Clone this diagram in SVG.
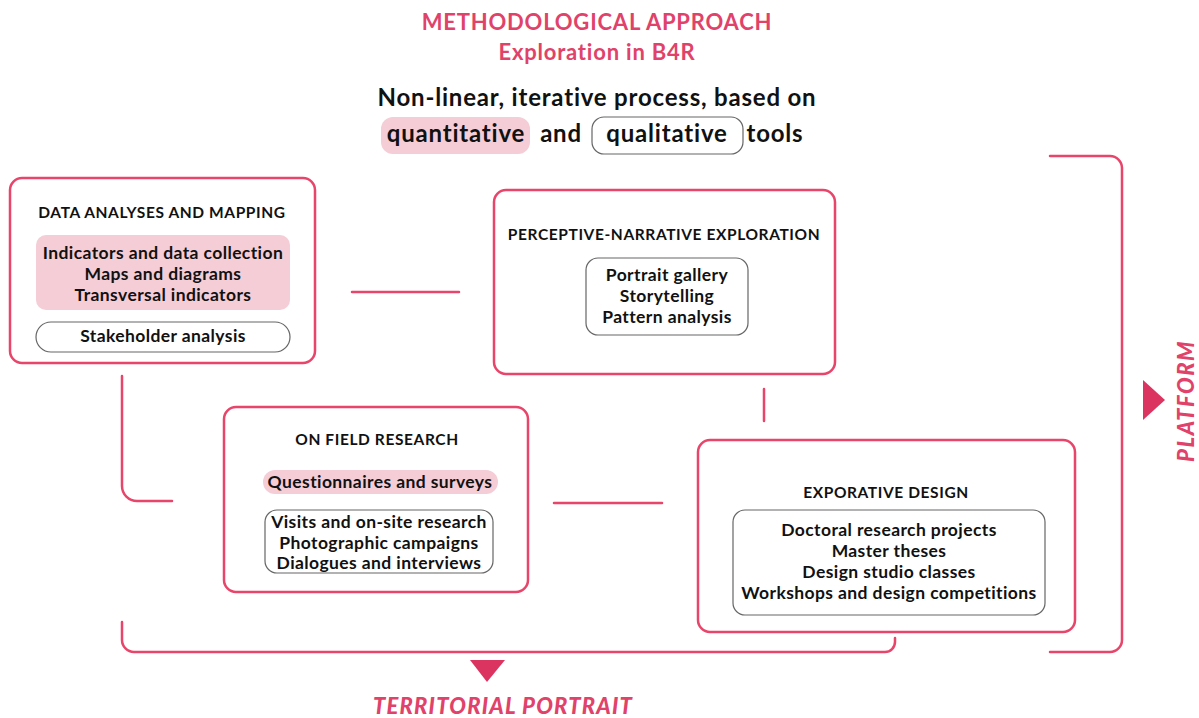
<svg xmlns="http://www.w3.org/2000/svg" width="1199" height="718" viewBox="0 0 1199 718">
<style>
.node{fill:#fff;stroke:#e8456b;stroke-width:2.5}
.pk{fill:#f5cdd6;stroke:none}
.wb{fill:#fff;stroke:#666;stroke-width:1.2}
.con{fill:none;stroke:#e8456b;stroke-width:2.5;stroke-linecap:round}
.h{font-family:Lato,"Liberation Sans",sans-serif;font-weight:700;font-size:15.5px;letter-spacing:0.6px;fill:#111;text-anchor:middle}
.t{font-family:Lato,"Liberation Sans",sans-serif;font-weight:700;font-size:17.5px;letter-spacing:0.4px;fill:#111;text-anchor:middle}
.title{font-family:Lato,"Liberation Sans",sans-serif;font-weight:700;font-size:22px;letter-spacing:0.8px;fill:#e0426a;text-anchor:middle}
.sub{font-family:Lato,"Liberation Sans",sans-serif;font-weight:700;font-size:24px;letter-spacing:0.8px;fill:#111;text-anchor:middle}
.lab{font-family:Lato,"Liberation Sans",sans-serif;font-weight:900;font-style:italic;font-size:22px;letter-spacing:1.2px;fill:#e0426a;text-anchor:middle}
.tri{fill:#dc3461}
</style>
<rect width="1199" height="718" fill="#fff"/>
<g id="header">
<text class="title" x="597" y="30">METHODOLOGICAL APPROACH</text>
<text class="title" x="597" y="60">Exploration in B4R</text>
<text class="sub" x="597" y="106">Non-linear, iterative process, based on</text>
<rect class="pk" x="381" y="117" width="149" height="37" rx="12"/>
<rect class="wb" x="592" y="117" width="151" height="37" rx="12"/>
<text class="sub" x="456" y="142">quantitative</text>
<text class="sub" x="561" y="142">and</text>
<text class="sub" x="667" y="142">qualitative</text>
<text class="sub" x="775" y="142">tools</text>
</g>
<g id="connectors">
<line class="con" x1="352" y1="292" x2="459" y2="292"/>
<path class="con" d="M122,376 V486 A15,15 0 0 0 137,501 H172"/>
<line class="con" x1="554" y1="503" x2="662" y2="503"/>
<line class="con" x1="764" y1="389" x2="764" y2="421"/>
<path class="con" d="M122,622 V640 A12,12 0 0 0 134,652 H885 A10,10 0 0 0 895,642 V638"/>
<path class="con" d="M1050,156 H1110 A12,12 0 0 1 1122,168 V640 A12,12 0 0 1 1110,652 H1050"/>
</g>
<g id="data-analyses">
<rect class="node" x="10" y="178" width="305" height="185" rx="12"/>
<text class="h" x="162" y="218">DATA ANALYSES AND MAPPING</text>
<rect class="pk" x="36" y="235" width="254" height="75" rx="10"/>
<text class="t" x="163" y="259">Indicators and data collection</text>
<text class="t" x="163" y="280">Maps and diagrams</text>
<text class="t" x="163" y="301">Transversal indicators</text>
<rect class="wb" x="36" y="322" width="254" height="30" rx="15"/>
<text class="t" x="163" y="342">Stakeholder analysis</text>
</g>
<g id="perceptive-narrative">
<rect class="node" x="494" y="190" width="341" height="184" rx="12"/>
<text class="h" x="664" y="240">PERCEPTIVE-NARRATIVE EXPLORATION</text>
<rect class="wb" x="586" y="258" width="162" height="77" rx="12"/>
<text class="t" x="667" y="281">Portrait gallery</text>
<text class="t" x="667" y="302">Storytelling</text>
<text class="t" x="667" y="323">Pattern analysis</text>
</g>
<g id="on-field">
<rect class="node" x="224" y="407" width="304" height="185" rx="12"/>
<text class="h" x="377" y="445">ON FIELD RESEARCH</text>
<rect class="pk" x="263" y="470" width="235" height="24" rx="12"/>
<text class="t" x="380" y="488">Questionnaires and surveys</text>
<rect class="wb" x="265" y="510" width="228" height="63" rx="12"/>
<text class="t" x="379" y="528">Visits and on-site research</text>
<text class="t" x="379" y="549">Photographic campaigns</text>
<text class="t" x="379" y="569">Dialogues and interviews</text>
</g>
<g id="explorative-design">
<rect class="node" x="698" y="440" width="377" height="192" rx="12"/>
<text class="h" x="886" y="498">EXPORATIVE DESIGN</text>
<rect class="wb" x="733" y="510" width="312" height="105" rx="12"/>
<text class="t" x="889" y="536">Doctoral research projects</text>
<text class="t" x="889" y="557">Master theses</text>
<text class="t" x="889" y="578">Design studio classes</text>
<text class="t" x="889" y="599">Workshops and design competitions</text>
</g>
<g id="territorial-portrait">
<polygon class="tri" points="470,660 505,660 487,682"/>
<text class="lab" x="503" y="714">TERRITORIAL PORTRAIT</text>
</g>
<g id="platform">
<polygon class="tri" points="1143,380 1165,400 1143,420"/>
<text class="lab" transform="translate(1194,401) rotate(-90)" x="0" y="0" style="letter-spacing:1.5px">PLATFORM</text>
</g>
</svg>
